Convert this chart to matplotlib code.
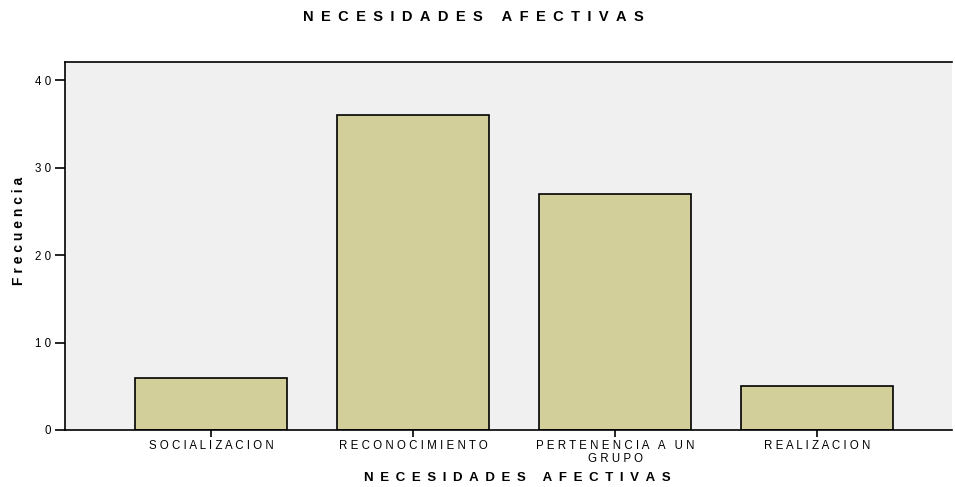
import numpy as np
import matplotlib.pyplot as plt

categories = ['SOCIALIZACION', 'RECONOCIMIENTO', 'PERTENENCIA A UN\nGRUPO', 'REALIZACION']
frecuencia = [6, 36, 27, 5]
y_ticks = [0, 10, 20, 30, 40]


def spaced(s, gap=' '):
    # imitate the wide letter spacing of the original
    return '\n'.join(gap.join(line) for line in s.split('\n'))


plt.rcParams['font.family'] = ['Liberation Sans', 'DejaVu Sans']

fig = plt.figure(figsize=(9.55, 4.87), dpi=100)
ax = fig.add_axes([65 / 955, 57 / 487, 887 / 955, 368 / 487])
ax.set_facecolor('#f0f0f0')

x = np.arange(len(categories))
ax.bar(x, frecuencia, width=0.752, color='#d3cf9a', edgecolor='black', linewidth=1.2, zorder=2)

ax.set_xlim(-0.723, 3.668)
ax.set_ylim(0, 42.06)
ax.set_yticks(y_ticks)
ax.set_yticklabels([spaced(str(v)) for v in y_ticks], fontsize=8.3)
ax.set_xticks(x)
ax.set_xticklabels([spaced(c) for c in categories], fontsize=8.3, linespacing=1.1)

ax.tick_params(axis='y', direction='out', length=7, width=1.2, pad=3)
ax.tick_params(axis='x', direction='out', length=5, width=1.2, pad=2)

for side in ['left', 'bottom', 'top']:
    ax.spines[side].set_linewidth(1.2)
ax.spines['right'].set_visible(False)

ax.set_ylabel(spaced('Frecuencia'), fontsize=10, fontweight='bold')
ax.yaxis.set_label_coords(-39 / 887, 0.54)
ax.set_xlabel(spaced('NECESIDADES AFECTIVAS', '\u2002'), fontsize=9.5, fontweight='bold')
ax.xaxis.set_label_coords(0.51, -42 / 368)
fig.text(0.496, 1 - 17 / 487, spaced('NECESIDADES AFECTIVAS', '\u2002'), ha='center', va='center',
         fontsize=10.5, fontweight='bold')

fig.savefig('out.png', dpi=100)
